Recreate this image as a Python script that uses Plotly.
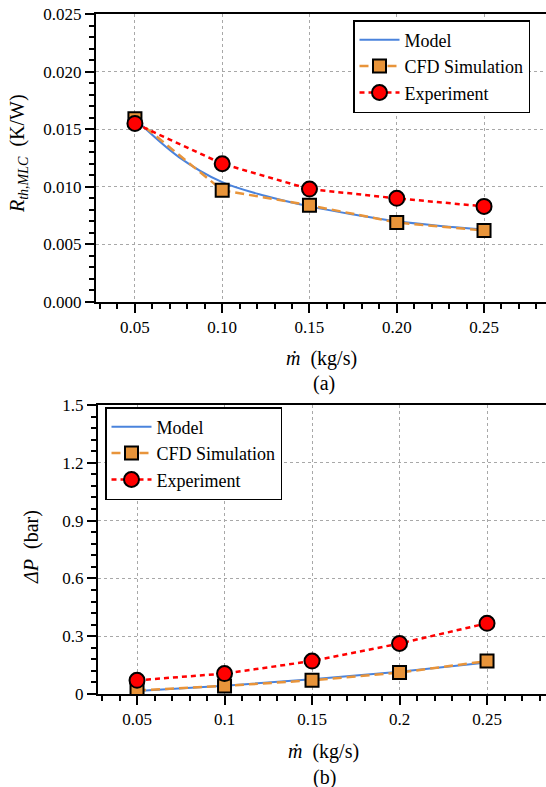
import plotly.graph_objects as go

# Mass flow rate (kg/s)
mdot = [0.05, 0.10, 0.15, 0.20, 0.25]

# (a) Thermal resistance of the MLC (K/W)
model_mdot_a = [0.05, 0.075, 0.10, 0.125, 0.15, 0.175, 0.20, 0.225, 0.25]
model_rth = [0.0159, 0.0126, 0.0104, 0.0092, 0.0083, 0.0076, 0.0070, 0.0066, 0.0063]
cfd_rth = [0.0159, 0.0097, 0.0084, 0.0069, 0.0062]
exp_rth = [0.0155, 0.0120, 0.0098, 0.0090, 0.0083]

# (b) Pressure drop (bar)
model_mdot_b = [0.05, 0.10, 0.15, 0.20, 0.25]
model_dp = [0.016, 0.043, 0.076, 0.116, 0.163]
cfd_dp = [0.019, 0.042, 0.071, 0.111, 0.171]
exp_dp = [0.071, 0.106, 0.171, 0.262, 0.367]

FONT = "'Liberation Serif', 'Times New Roman', Times, serif"
BLUE = "#4a83dc"
ORANGE = "#e8943a"
RED = "#ff0000"

W, H = 546, 787
L, R, T, B = 96, 0, 14, 93
PW, PH = W - L - R, H - T - B


def px_x(px):
    return (px - L) / PW


def px_y(py):
    return (H - B - py) / PH


fig = go.Figure()


def add_series(xa, ya, legend, mx, my, cx, cy, ex, ey, spline):
    fig.add_trace(go.Scatter(
        x=mx, y=my, mode="lines", name="Model",
        line=dict(color=BLUE, width=2, shape="spline" if spline else "linear", smoothing=1.0),
        xaxis=xa, yaxis=ya, legend=legend))
    fig.add_trace(go.Scatter(
        x=cx, y=cy, mode="lines+markers", name="CFD Simulation",
        line=dict(color=ORANGE, width=2.5, dash="9px,5px"),
        marker=dict(symbol="square", size=13, color=ORANGE, line=dict(color="black", width=2)),
        xaxis=xa, yaxis=ya, legend=legend))
    fig.add_trace(go.Scatter(
        x=ex, y=ey, mode="lines+markers", name="Experiment",
        line=dict(color=RED, width=2.5, dash="5px,4px"),
        marker=dict(symbol="circle", size=15, color=RED, line=dict(color="black", width=2)),
        xaxis=xa, yaxis=ya, legend=legend))


add_series("x", "y", "legend", model_mdot_a, model_rth, mdot, cfd_rth, mdot, exp_rth, True)
add_series("x2", "y2", "legend2", model_mdot_b, model_dp, mdot, cfd_dp, mdot, exp_dp, False)

axis_common = dict(
    showline=True, linecolor="black", linewidth=2,
    ticks="outside", ticklen=9, tickwidth=1.5, tickcolor="black",
    showgrid=True, gridcolor="#a8a8a8", griddash="dot", gridwidth=1,
    zeroline=False,
    tickfont=dict(family=FONT, size=17, color="black"),
)
minor_x = dict(dtick=0.01, tick0=0, ticks="outside", ticklen=5, tickwidth=1.5,
               tickcolor="black", showgrid=False)

legend_common = dict(bgcolor="white", bordercolor="black", borderwidth=1.5,
                     itemwidth=40,
                     font=dict(family=FONT, size=18, color="black"), tracegroupgap=0)

fig.update_layout(
    width=W, height=H,
    margin=dict(l=L, r=R, t=T, b=B),
    paper_bgcolor="white", plot_bgcolor="white",
    font=dict(family=FONT, size=17, color="black"),
    xaxis=dict(axis_common, domain=[0, 1], anchor="y", range=[0.0277, 0.2855],
               tick0=0.05, dtick=0.05, tickformat=".2f", mirror=True, minor=minor_x),
    yaxis=dict(axis_common, domain=[px_y(302), 1], anchor="x", range=[0, 0.025],
               tick0=0, dtick=0.005, tickformat=".3f",
               minor=dict(dtick=0.001, ticks="outside", ticklen=5, tickwidth=1.5,
                          tickcolor="black", showgrid=False)),
    xaxis2=dict(axis_common, domain=[px_x(98), 1], anchor="y2", range=[0.0277, 0.2837],
                tick0=0.05, dtick=0.05, mirror=True, minor=minor_x),
    yaxis2=dict(axis_common, domain=[0, px_y(405)], anchor="x2", range=[0, 1.5],
                tick0=0, dtick=0.3,
                minor=dict(dtick=0.06, ticks="outside", ticklen=5, tickwidth=1.5,
                           tickcolor="black", showgrid=False)),
    legend=dict(legend_common, x=px_x(530), y=px_y(20), xanchor="right", yanchor="top"),
    legend2=dict(legend_common, x=px_x(105), y=px_y(407), xanchor="left", yanchor="top"),
)

# Axis titles and panel labels
ann = [
    dict(x=px_x(321), y=px_y(358), text="<i>ṁ</i>  (kg/s)"),
    dict(x=px_x(324), y=px_y(383), text="(a)"),
    dict(x=px_x(323), y=px_y(751), text="<i>ṁ</i>  (kg/s)"),
    dict(x=px_x(324), y=px_y(777), text="(b)"),
    dict(x=px_x(18), y=px_y(154), text="<i>R</i><sub><i>th,MLC</i></sub>  (K/W)", textangle=-90),
    dict(x=px_x(31), y=px_y(547), text="<i>ΔP</i>  (bar)", textangle=-90),
]
for a in ann:
    fig.add_annotation(xref="paper", yref="paper", xanchor="center", yanchor="middle",
                       showarrow=False, font=dict(family=FONT, size=20, color="black"), **a)

fig.write_html("out.html")
